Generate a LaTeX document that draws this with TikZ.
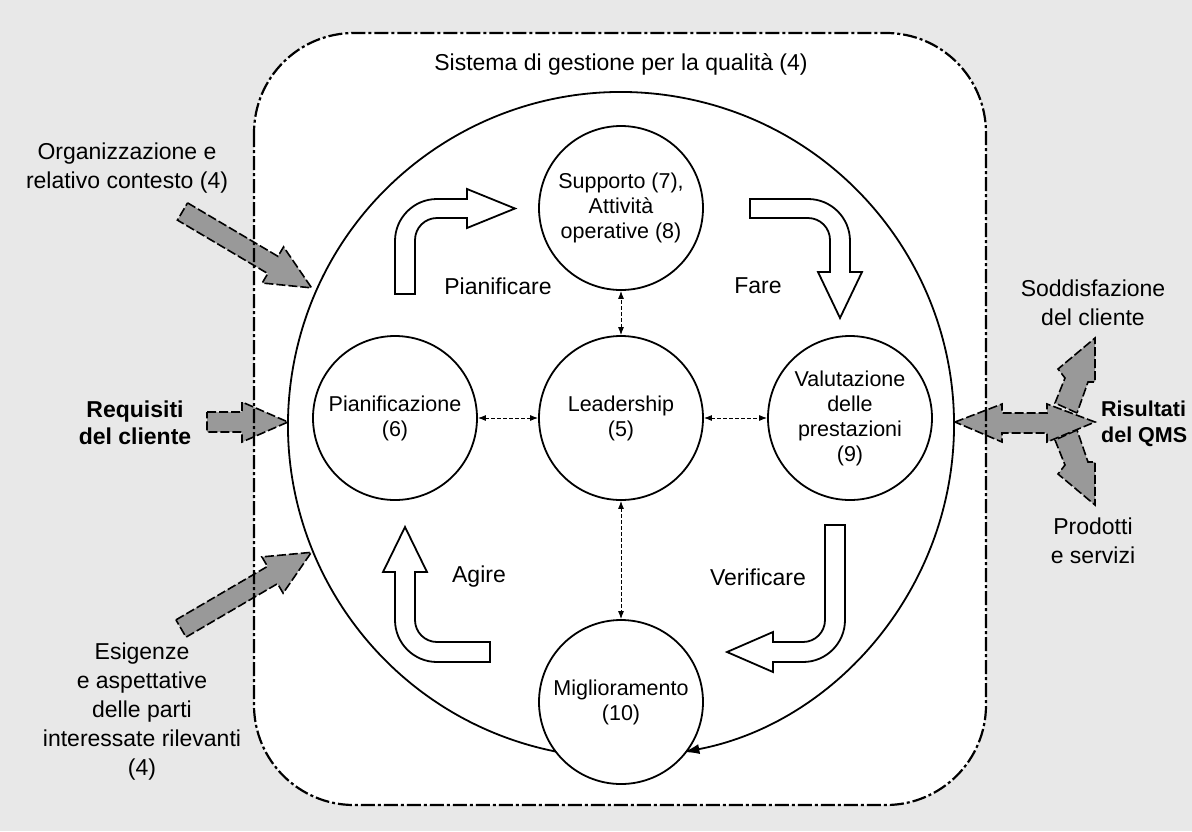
\documentclass[tikz,border=0pt]{standalone}
\usepackage{fontspec}
\setmainfont{Liberation Sans}
\usetikzlibrary{arrows.meta, calc}

\begin{document}
\begin{tikzpicture}[x=1pt, y=-1pt,
        outer/.style={align=center, font=\fontsize{23}{29}\selectfont},
        outerbold/.style={align=center, font=\fontsize{23}{27}\selectfont\bfseries},
        phase/.style={font=\fontsize{23}{28}\selectfont},
        clause/.style={circle, draw, line width=1.8pt, fill=white, minimum size=164pt, inner sep=0pt, align=center, font=\fontsize{21.5}{25}\selectfont},
        link/.style={{Latex[length=8pt,width=6pt]}-{Latex[length=8pt,width=6pt]}, line width=0.9pt, dash pattern=on 4pt off 2pt},
        loopline/.style={-{Latex[length=16pt,width=10pt]}, line width=1.8pt},
        bent/.style={draw, fill=white, line width=1.8pt, line join=miter},
        inflow/.style={draw, fill=black!40, line width=1.6pt, line join=miter, dash pattern=on 9pt off 3pt},
        system/.style={line width=2.2pt, rounded corners=100pt, dash pattern=on 14pt off 3pt on 3pt off 3pt}
    ]
        \fill[black!9] (0,0) rectangle (1192,831);
        \useasboundingbox (0,0) rectangle (1192,831);

        % SISTEMA
        \fill[white, rounded corners=100pt] (254,33) rectangle (986,805);

        % INGRESSI
        \begin{scope}[shift={(182.5,211.5)}, rotate=-30.6]
            \draw[inflow] (0,-10) -- (105,-10) -- (105,-21) -- (150,0) coordinate (contexttip) -- (105,21) -- (105,10) -- (0,10) -- cycle;
        \end{scope}
        \begin{scope}[shift={(207,422)}]
            \draw[inflow] (0,-10) -- (35,-10) -- (35,-20) -- (81,0) coordinate (reqtip) -- (35,20) -- (35,10) -- (0,10) -- cycle;
        \end{scope}
        \begin{scope}[shift={(181,628.5)}, rotate=30.3]
            \draw[inflow] (0,-10) -- (106,-10) -- (106,-21) -- (151,0) coordinate (needstip) -- (106,21) -- (106,10) -- (0,10) -- cycle;
        \end{scope}

        % USCITE
        \draw[inflow] (1077,413) -- (1055,403) -- (1065,378) -- (1058,369) -- (1095,338) coordinate (satisftip) -- (1095,382) -- (1088,382) -- cycle;
        \draw[inflow] (1077,430) -- (1055,440) -- (1065,465) -- (1058,474) -- (1095,505) coordinate (productstip) -- (1095,462) -- (1088,462) -- cycle;
        \draw[inflow] (955,422) coordinate (resultstip) -- (1002,404) -- (1002,413) -- (1047,413) -- (1047,404) -- (1095,422) -- (1047,442) -- (1047,433) -- (1002,433) -- (1002,442) -- cycle;

        \draw[system] (254,33) rectangle (986,805);
        \node[outer] (qms) at (621,64) {Sistema di gestione per la qualità (4)};

        % CICLO
        \coordinate (hub) at (621,425);
        \draw[loopline] ($(hub)+(100.8:333)$) arc[start angle=100.8, end angle=439.2, radius=333];

        \node[clause] (supp) at (621,208) {Supporto (7),\\Attività\\operative (8)};
        \node[clause] (plan) at (395,418) {Pianificazione\\(6)};
        \node[clause] (lead) at (621,418) {Leadership\\(5)};
        \node[clause] (eval) at (850,418) {Valutazione\\delle\\prestazioni\\(9)};
        \node[clause] (impr) at (621,702) {Miglioramento\\(10)};

        \draw[link] (plan) -- (lead);
        \draw[link] (lead) -- (eval);
        \draw[link] (lead) -- (supp);
        \draw[link] (lead) -- (impr);

        % FRECCE PDCA
        \draw[bent] (395,294) -- (395,241) arc[start angle=180, end angle=270, radius=42] -- (467,199) -- (467,189) -- (515,208.5) -- (467,228) -- (467,218) -- (437,218) arc[start angle=270, end angle=180, radius=22] -- (415,294) -- cycle;
        \draw[bent] (750,199) -- (808,199) arc[start angle=270, end angle=360, radius=42] -- (850,272) -- (862,272) -- (840,318) -- (818,272) -- (830,272) -- (830,240) arc[start angle=0, end angle=-90, radius=22] -- (750,218) -- cycle;
        \draw[bent] (825,525) -- (845,525) -- (845,620) arc[start angle=0, end angle=90, radius=42] -- (773,662) -- (773,672) -- (727,652) -- (773,632) -- (773,642) -- (803,642) arc[start angle=90, end angle=0, radius=22] -- cycle;
        \draw[bent] (490,642) -- (490,662) -- (437,662) arc[start angle=90, end angle=180, radius=42] -- (395,572) -- (383,572) -- (405,527) -- (427,572) -- (415,572) -- (415,620) arc[start angle=180, end angle=90, radius=22] -- cycle;

        \node[phase] (planlbl) at (498,286) {Pianificare};
        \node[phase] (dolbl) at (758,286) {Fare};
        \node[phase] (actlbl) at (479,577) {Agire};
        \node[phase] (checklbl) at (758,577) {Verificare};

        % TESTI ESTERNI
        \node[outer] (context) at (127,168) {Organizzazione e\\relativo contesto (4)};
        \node[outerbold] (req) at (135,423) {Requisiti\\del cliente};
        \node[outer] (needs) at (142,712) {Esigenze\\e aspettative\\delle parti\\interessate rilevanti\\(4)};
        \node[outer] (satisf) at (1093,303) {Soddisfazione\\del cliente};
        \node[outerbold, anchor=west, align=left, font=\fontsize{21.5}{26}\selectfont\bfseries, inner sep=0pt] (results) at (1101,424) {Risultati\\del QMS};
        \node[outer] (products) at (1093,541) {Prodotti\\e servizi};
    \end{tikzpicture}
\end{document}
